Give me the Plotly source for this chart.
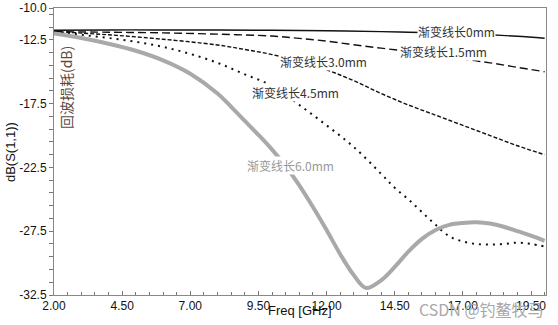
import plotly.graph_objects as go

# ---- data ----
freq_0 = [2.0, 4.0, 6.0, 8.0, 10.0, 12.0, 14.0, 15.0, 16.0, 17.0, 18.0, 19.0, 20.0]
db_0 = [-11.75, -11.72, -11.72, -11.73, -11.75, -11.78, -11.85, -11.9, -11.95, -12.02, -12.1, -12.22, -12.37]

freq_15 = [2.0, 4.0, 6.0, 8.0, 10.0, 11.0, 12.0, 13.0, 14.0, 15.0, 16.0, 17.0, 18.0, 19.0, 20.0]
db_15 = [-11.85, -11.9, -11.95, -12.05, -12.2, -12.38, -12.6, -12.88, -13.15, -13.4, -13.7, -14.0, -14.3, -14.65, -15.0]

freq_30 = [2.0, 4.0, 6.0, 8.0, 9.0, 10.0, 11.0, 12.0, 13.0, 14.0, 15.0, 16.0, 17.0, 18.0, 19.0, 20.0]
db_30 = [-11.85, -12.1, -12.45, -12.9, -13.25, -13.65, -14.2, -14.85, -15.7, -16.7, -17.6, -18.4, -19.2, -20.0, -20.8, -21.5]

freq_45 = [2.0, 3.0, 4.0, 5.0, 6.0, 7.0, 8.0, 9.0, 10.0, 11.0, 12.0, 13.0, 14.0, 14.5, 15.0, 15.5,
           16.0, 16.5, 17.0, 17.5, 18.0, 18.5, 19.0, 19.5, 20.0]
db_45 = [-11.85, -12.1, -12.35, -12.65, -13.05, -13.6, -14.3, -15.2, -16.1, -17.6, -19.2, -20.9, -23.0, -24.1,
         -25.0, -26.0, -27.0, -27.9, -28.3, -28.5, -28.55, -28.5, -28.4, -28.5, -28.7]

freq_60 = [2.0, 3.0, 4.0, 5.0, 6.0, 7.0, 8.0, 8.5, 9.0, 9.5, 10.0, 10.5, 11.0, 11.5, 12.0, 12.5, 13.0, 13.45,
           14.0, 14.5, 15.0, 15.5, 16.0, 16.5, 17.0, 17.5, 18.0, 18.5, 19.0, 19.5, 20.0]
db_60 = [-12.0, -12.35, -12.8, -13.35, -14.1, -15.15, -16.7, -17.75, -18.85, -19.95, -21.1, -22.4, -23.9,
         -25.6, -27.4, -29.3, -30.95, -31.95, -31.35, -30.3, -29.1, -28.1, -27.4, -27.0, -26.85, -26.8,
         -26.9, -27.15, -27.5, -27.85, -28.25]

x_ticks = [2.0, 4.5, 7.0, 9.5, 12.0, 14.5, 17.0, 19.5]
x_ticktext = ["2.00", "4.50", "7.00", "9.50", "12.00", "14.50", "17.00", "19.50"]
y_ticks = [-32.5, -27.5, -22.5, -17.5, -12.5, -10.0]
y_ticktext = ["-32.5", "-27.5", "-22.5", "-17.5", "-12.5", "-10.0"]

labels = ["渐变线长0mm", "渐变线长1.5mm", "渐变线长3.0mm", "渐变线长4.5mm", "渐变线长6.0mm"]
label_x = [16.78, 16.3, 11.9, 10.86, 10.68]
label_y = [-11.88, -13.44, -14.2, -16.64, -22.34]

# ---- figure ----
fig = go.Figure()
series = [
    (freq_0, db_0, dict(color="#111111", width=1.4, dash="solid")),
    (freq_15, db_15, dict(color="#111111", width=1.4, dash="8px,4px")),
    (freq_30, db_30, dict(color="#111111", width=1.4, dash="4px,2px")),
    (freq_45, db_45, dict(color="#111111", width=2, dash="2px,5px")),
    (freq_60, db_60, dict(color="#a9a9a9", width=4, dash="solid")),
]
for fx, fy, ln in series:
    fig.add_trace(go.Scatter(x=fx, y=fy, mode="lines", line=dict(shape="spline", **ln),
                             showlegend=False, hoverinfo="skip"))

label_colors = ["#333333", "#333333", "#333333", "#333333", "#999999"]
for t, lx, ly, c in zip(labels, label_x, label_y, label_colors):
    fig.add_annotation(x=lx, y=ly, xref="x", yref="y", text=t, showarrow=False,
                       font=dict(family="Noto Sans CJK SC", size=12, color=c),
                       bgcolor="white", borderpad=0)

axis_font = dict(family="Liberation Sans, Arial", size=12, color="#111111")
fig.update_xaxes(range=[2.0, 20.05], tickvals=x_ticks, ticktext=x_ticktext, automargin=False,
                 ticks="inside", ticklen=4, tickcolor="#777777",
                 minor=dict(dtick=0.5, tick0=2.0, ticks="inside", ticklen=3, tickcolor="#777777"),
                 showline=True, linecolor="#888888", linewidth=1, mirror=True,
                 showgrid=False, zeroline=False, tickfont=axis_font)
fig.update_yaxes(range=[-32.5, -10.0], tickvals=y_ticks, ticktext=y_ticktext, automargin=False,
                 ticks="outside", ticklen=4, tickcolor="#777777",
                 minor=dict(dtick=1, tick0=-32.5, ticks="outside", ticklen=4, tickcolor="#777777"),
                 showline=True, linecolor="#888888", linewidth=1, mirror=True,
                 showgrid=False, zeroline=False, tickfont=axis_font)

# axis titles
fig.add_annotation(x=0.5, y=-0.055, xref="paper", yref="paper", text="Freq [GHz]", showarrow=False,
                   xanchor="center", yanchor="middle",
                   font=dict(family="Liberation Sans, Arial", size=13, color="#111111"))
fig.add_annotation(x=-0.0894, y=0.498, xref="paper", yref="paper", text="dB(S(1,1))", showarrow=False,
                   textangle=-90, xanchor="center", yanchor="middle",
                   font=dict(family="Liberation Sans, Arial", size=13, color="#111111"))

fig.add_annotation(x=0.023, y=0.722, xref="paper", yref="paper", text="回波损耗(dB)", showarrow=False,
                   textangle=-90, xanchor="center", yanchor="middle",
                   font=dict(family="Noto Sans CJK SC", size=14, color="#5e4a42"))

fig.add_annotation(x=1.0, y=-0.05, xref="paper", yref="paper", text="CSDN @钓鳌牧马", showarrow=False,
                   xanchor="right", yanchor="middle",
                   font=dict(family="Noto Sans CJK SC", size=16, color="#a8a8a8"))

fig.update_layout(width=558, height=325, margin=dict(l=54, r=12, t=8, b=30, autoexpand=False),
                  plot_bgcolor="white", paper_bgcolor="white")

fig.write_html("out.html")
